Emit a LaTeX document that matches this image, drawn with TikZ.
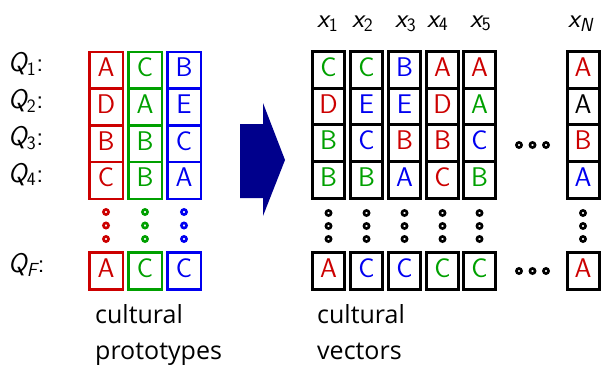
\documentclass[tikz,border=0pt]{standalone}
\usepackage{fontspec}
\newfontfamily\capfont{Open Sans}
\definecolor{cred}{RGB}{204,0,0}
\definecolor{cgreen}{RGB}{0,160,0}
\definecolor{cblue}{RGB}{0,0,240}
\definecolor{cnavy}{RGB}{0,0,140}
\tikzset{
  big/.style={font=\sffamily\fontsize{27}{30}\selectfont},
  lcell/.style={big, draw, line width=2.5pt, minimum width=33.5pt, minimum height=36.7pt, inner sep=0pt, text height=19pt, text depth=6pt},
  rcell/.style={big, draw=black, line width=3pt, minimum width=32pt, minimum height=36.7pt, inner sep=0pt, text height=19pt, text depth=6pt},
  lbl/.style={big, anchor=base west, inner sep=0pt},
  caption/.style={font=\capfont\fontsize{25}{28}\selectfont, anchor=base west, inner sep=0pt},
  vdot/.style={line width=2.6pt, fill=white},
}
\newcommand{\Qlab}[1]{{\itshape Q}\textsubscript{#1}:}
\newcommand{\Xlab}[1]{{\itshape x}\textsubscript{#1}}
\begin{document}
\begin{tikzpicture}[x=1pt,y=-1pt]
\useasboundingbox (0,0) rectangle (601,364);
% labels Q
\node[lbl] (q1) at (8,71) {\Qlab{1}};
\node[lbl] (q2) at (8,108) {\Qlab{2}};
\node[lbl] (q3) at (8,145) {\Qlab{3}};
\node[lbl] (q4) at (8,182) {\Qlab{4}};
\node[lbl] (qf) at (8,272) {\Qlab{\itshape F}};
% left prototypes
\foreach \c/\x/\letters in {cred/106/{A,D,B,C,A}, cgreen/145/{C,A,B,B,C}, cblue/184/{B,E,C,A,C}}{
  \foreach \l [count=\i] in \letters {
    \ifnum\i<5
      \node[lcell, draw=\c, text=\c] (p-\x-\i) at (\x,{70.3+(\i-1)*36.7}) {\l};
    \else
      \node[lcell, draw=\c, text=\c] (p-\x-\i) at (\x,271) {\l};
    \fi
  }
  \foreach \y in {212,225.5,239} \draw[vdot, draw=\c] (\x,\y) circle (2.6pt);
}
% arrow
\fill[cnavy] (240,124) -- (263,124) -- (263,103) -- (285,160) -- (263,216) -- (263,198) -- (240,198) -- cycle;
% right vectors
\foreach \x/\letters/\n in {
  328.5/{cgreen/C,cred/D,cgreen/B,cgreen/B,cred/A}/1,
  366.5/{cgreen/C,cblue/E,cblue/C,cgreen/B,cblue/C}/2,
  404.5/{cblue/B,cblue/E,cred/B,cblue/A,cblue/C}/3,
  442.5/{cred/A,cred/D,cred/B,cred/C,cgreen/C}/4,
  479.5/{cred/A,cgreen/A,cblue/C,cgreen/B,cgreen/C}/5,
  583/{cred/A,black/A,cred/B,cblue/A,cred/A}/N}{
  \foreach \c/\l [count=\i] in \letters {
    \ifnum\i<5
      \node[rcell, text=\c] (v-\n-\i) at (\x,{69.8+(\i-1)*36.7}) {\l};
    \else
      \node[rcell, text=\c] (v-\n-\i) at (\x,271) {\l};
    \fi
  }
  \foreach \y in {213,226,239} \draw[vdot] (\x,\y) circle (2.6pt);
}
% x labels
\node[lbl] (x1) at (317,27) {\Xlab{1}};
\node[lbl] (x2) at (352,27) {\Xlab{2}};
\node[lbl] (x3) at (395,27) {\Xlab{3}};
\node[lbl] (x4) at (427,27) {\Xlab{4}};
\node[lbl] (x5) at (470,27) {\Xlab{5}};
\node[lbl] (xn) at (568,27) {\Xlab{\itshape N}};
% horizontal ellipses
\foreach \y in {145,271} \foreach \x in {519,532.5,546} \draw[vdot] (\x,\y) circle (2.6pt);
% captions
\node[caption] (c1) at (95,323) {cultural};
\node[caption] (c2) at (95,359) {prototypes};
\node[caption] (c3) at (317,323) {cultural};
\node[caption] (c4) at (317,359) {vectors};
\end{tikzpicture}
\end{document}
